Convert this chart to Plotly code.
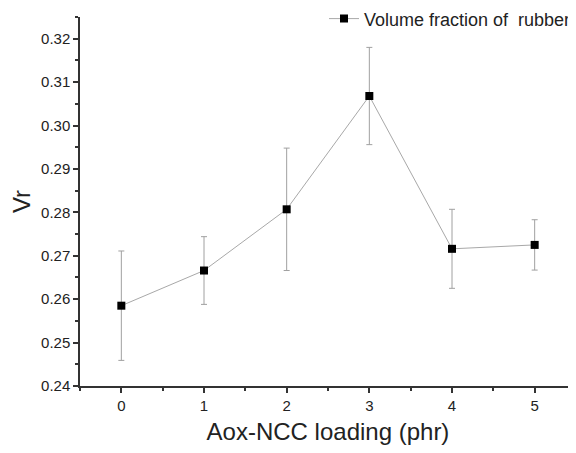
import plotly.graph_objects as go

loading = [0, 1, 2, 3, 4, 5]
vr = [0.2585, 0.2666, 0.2807, 0.3068, 0.2716, 0.2725]
vr_err = [0.0126, 0.0078, 0.0141, 0.0112, 0.0091, 0.0058]
x_ticks = [0, 1, 2, 3, 4, 5]
y_ticks = [0.24, 0.25, 0.26, 0.27, 0.28, 0.29, 0.30, 0.31, 0.32]

fig = go.Figure()
fig.add_trace(go.Scatter(
    x=loading, y=vr, mode="lines+markers",
    name="Volume fraction of  rubber",
    line=dict(color="#a8a8a8", width=1),
    marker=dict(symbol="square", size=8, color="black"),
    error_y=dict(type="data", array=vr_err, visible=True,
                 color="#a0a0a0", thickness=1, width=3),
))

font_family = "Liberation Sans, Arial, sans-serif"
# page body has an 8px margin, so the figure is sized/placed to compensate
fig.update_layout(
    width=568, height=445,
    margin=dict(l=72, r=0, t=9, b=67, autoexpand=False),
    paper_bgcolor="white", plot_bgcolor="white",
    font=dict(family=font_family, color="#222"),
    showlegend=True,
    legend=dict(x=1.0, y=1.045, xanchor="right", yanchor="top",
                bgcolor="rgba(255,255,255,0)", font=dict(size=18, color="#222"),
                borderwidth=0, tracegroupgap=0),
    xaxis=dict(
        range=[-0.5, 5.5], tickvals=x_ticks, ticktext=[str(t) for t in x_ticks],
        automargin=False,
        showline=True, linecolor="#333", linewidth=1.5, mirror=False,
        ticks="outside", ticklen=5, tickcolor="#333", tickwidth=1.5,
        minor=dict(dtick=0.5, ticks="outside", ticklen=3, tickcolor="#333", tickwidth=1.5),
        showgrid=False, zeroline=False,
        tickfont=dict(size=15, color="#222"),
        title=dict(text="Aox-NCC loading (phr)", font=dict(size=24, color="#222"), standoff=10),
    ),
    yaxis=dict(
        range=[0.24, 0.325], tickvals=y_ticks, ticktext=[f"{t:.2f}" for t in y_ticks],
        automargin=False,
        showline=True, linecolor="#333", linewidth=1.5, mirror=False,
        ticks="outside", ticklen=5, tickcolor="#333", tickwidth=1.5,
        minor=dict(dtick=0.005, tick0=0.24, ticks="outside", ticklen=3, tickcolor="#333", tickwidth=1.5),
        showgrid=False, zeroline=False,
        tickfont=dict(size=15, color="#222"),
        title=dict(text="Vr", font=dict(size=24, color="#222"), standoff=8),
    ),
)

fig.write_html("out.html")
